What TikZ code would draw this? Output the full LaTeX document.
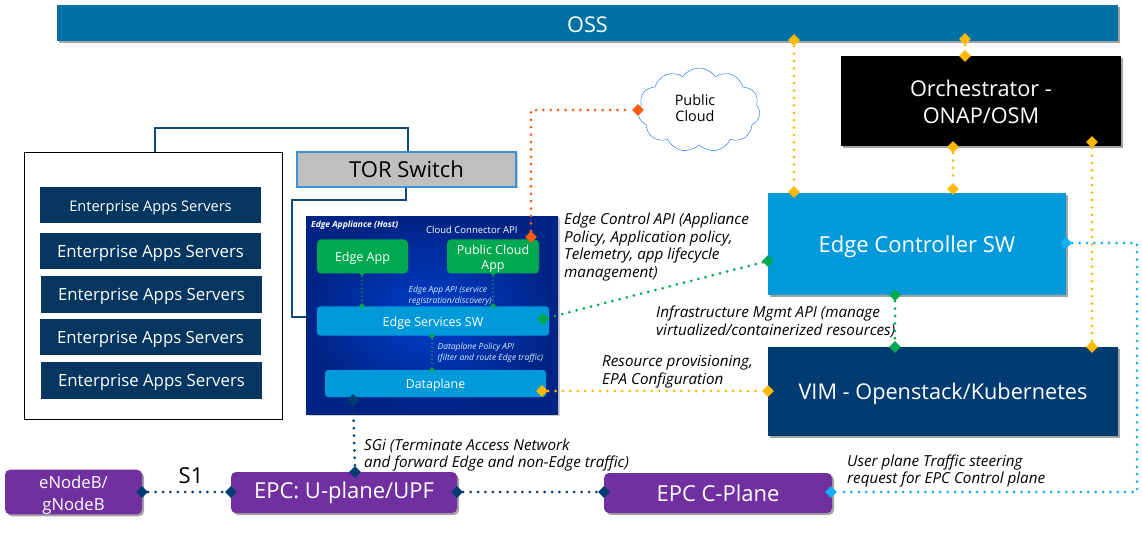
\documentclass[tikz,border=0pt]{standalone}
\usepackage{fontspec}
\setmainfont{Open Sans}
\usetikzlibrary{calc,shapes,shadows}

\definecolor{ossblue}{HTML}{0071A4}
\definecolor{skyblue}{HTML}{009ADA}
\definecolor{navyblue}{HTML}{003C71}
\definecolor{srvblue}{HTML}{04365F}
\definecolor{appgreen}{HTML}{00A94F}
\definecolor{epcpurple}{HTML}{7030A0}
\definecolor{gold}{HTML}{FFB900}
\definecolor{orangered}{HTML}{FF5A14}
\definecolor{lightblue}{HTML}{14AFF0}
\definecolor{wireblue}{HTML}{0A4A7D}
\definecolor{torblue}{HTML}{0A78C8}

\newcommand{\lowstrut}[1]{\rule{0pt}{#1}}

\tikzset{
  box/.style={draw=none,inner sep=0pt,text=white,align=center,
    drop shadow={shadow xshift=2pt,shadow yshift=-2pt,fill=black!60,opacity=0.6}},
  srv/.style={fill=srvblue,inner sep=0pt,text=white,align=center,minimum width=221pt,minimum height=36.5pt,font=\fontsize{16.8}{19}\selectfont},
  epc/.style={box,fill=epcpurple,rounded corners=5pt,font=\fontsize{22}{25}\selectfont},
  inbox/.style={inner sep=0pt,text=white,align=center},
  note/.style={anchor=west,inner sep=0pt,align=left,font=\fontsize{15.2}{17.6}\selectfont\itshape},
  tiny/.style={anchor=west,inner sep=0pt,align=left,text=white!85!skyblue,font=\fontsize{8.45}{11}\selectfont\itshape},
  port/.style={diamond,fill=#1,inner sep=0pt,minimum size=12pt},
  smallport/.style={diamond,fill=#1,inner sep=0pt,minimum size=6pt},
  link/.style={draw=#1,line width=3pt,line cap=round,dash pattern=on 0pt off 7.4pt},
  thinlink/.style={draw=#1,line width=1.8pt,line cap=round,dash pattern=on 0pt off 4pt},
  wire/.style={draw=wireblue,line width=2.2pt}
}

\begin{document}
\begin{tikzpicture}[x=1pt,y=-1pt]
  \useasboundingbox (0,0) rectangle (1142,534);

  %% Wires behind the boxes
  \coordinate (wireA) at (155,128);
  \coordinate (wireB) at (408,128);
  \coordinate (wireC) at (406,200);
  \coordinate (wireD) at (292,200);
  \coordinate (wireE) at (292,317);
  \coordinate (wireF) at (316,317);
  \coordinate (wireG) at (155,152);
  \coordinate (wireH) at (408,152);
  \coordinate (wireI) at (406,187);
  \draw[wire] (wireG) -- (wireA) -- (wireB) -- (wireH);
  \draw[wire] (wireI) -- (wireC) -- (wireD) -- (wireE) -- (wireF);

  %% Top row
  \node[box,fill=ossblue,minimum width=1061pt,minimum height=36pt,font=\fontsize{21.7}{25}\selectfont] (OSS) at (587.5,23) {\lowstrut{20pt}OSS};
  \node[box,fill=black,minimum width=280pt,minimum height=90pt,font=\fontsize{21.7}{27}\selectfont] (ORCH) at (981,101) {\lowstrut{18pt}Orchestrator -\\ONAP/OSM};
  \node[box,fill=skyblue,minimum width=298pt,minimum height=102pt,font=\fontsize{22}{25}\selectfont] (CTRL) at (917,244) {\lowstrut{22pt}Edge Controller SW};
  \node[box,fill=navyblue,minimum width=350pt,minimum height=89pt,font=\fontsize{21.7}{25}\selectfont] (VIM) at (943,391.5) {\lowstrut{22pt}VIM - Openstack/Kubernetes};
  \node[draw=lightblue!60!blue,cloud,cloud puffs=11,cloud puff arc=110,aspect=1.5,inner sep=0pt,minimum width=122pt,minimum height=84pt] (CLOUD) at (699,110) {};
  \node[inner sep=0pt,align=center,font=\fontsize{14.4}{16.5}\selectfont] (CLOUDTXT) at (695,108) {Public\\Cloud};

  %% Servers
  \node[draw=black,fill=white,minimum width=258pt,minimum height=267pt,inner sep=0pt] (RACK) at (153,285.5) {};
  \node[srv,font=\fontsize{14.6}{17}\selectfont] (SRV1) at (150.5,205) {\lowstrut{16pt}Enterprise Apps Servers};
  \foreach \n/\x/\y in {2/150.5/251,3/151.5/294.5,4/150.5/337,5/151.5/380.5}
  {
    \node[srv] (SRV\n) at (\x,\y) {\lowstrut{17pt}Enterprise Apps Servers};
  }
  \node[draw=torblue!80!white,line width=1.2pt,fill=black!25,inner sep=0pt,align=center,minimum width=219pt,minimum height=35pt,font=\fontsize{22}{25}\selectfont,drop shadow={shadow xshift=1.5pt,shadow yshift=-1.5pt,fill=black!40}] (TOR) at (406.5,169.5) {TOR Switch};

  %% Edge appliance
  \node[inner sep=0pt,minimum width=252pt,minimum height=197pt,inner color=blue!45!ossblue,outer color=navyblue!70!blue!85!black,drop shadow={shadow xshift=1.5pt,shadow yshift=-1.5pt,fill=black!40}] (HOST) at (432,315.5) {};
  \node[inner sep=0pt,anchor=west,text=white,font=\fontsize{8.5}{10}\selectfont\bfseries\itshape] (HOSTTXT) at (311,225) {Edge Appliance (Host)};
  \node[inner sep=0pt,anchor=west,text=white,font=\fontsize{9.5}{11}\selectfont] (CCAPI) at (426,229.5) {Cloud Connector API};
  \node[inbox,fill=appgreen,rounded corners=4pt,minimum width=91pt,minimum height=34pt,font=\fontsize{12.5}{15}\selectfont] (EAPP) at (362.5,256.5) {\lowstrut{13.5pt}Edge App};
  \node[inbox,fill=appgreen,rounded corners=4pt,minimum width=92pt,minimum height=34pt,font=\fontsize{12.5}{15}\selectfont] (PAPP) at (493,256.5) {\lowstrut{13.5pt}Public Cloud\\App};
  \node[inbox,fill=skyblue,rounded corners=3pt,minimum width=232pt,minimum height=29pt,font=\fontsize{12.5}{15}\selectfont] (ESW) at (433,321) {\lowstrut{13.5pt}Edge Services SW};
  \node[inbox,fill=skyblue,rounded corners=3pt,minimum width=221pt,minimum height=27pt,font=\fontsize{12.4}{15}\selectfont] (DPL) at (435.5,383.5) {\lowstrut{13.5pt}Dataplane};
  \node[tiny] (EAAPI) at (408.5,295.5) {Edge App API (service\\registration/discovery)};
  \node[tiny] (DPAPI) at (437.5,353) {Dataplane Policy API\\(filter and route Edge traffic)};

  %% Bottom row
  \node[epc,minimum width=137pt,minimum height=42pt,font=\fontsize{16.7}{22}\selectfont] (ENB) at (73.5,492) {\lowstrut{18.5pt}eNodeB/\\gNodeB};
  \node[epc,minimum width=226pt,minimum height=41pt] (EPCU) at (344,492.5) {\lowstrut{18pt}EPC: U-plane/UPF};
  \node[epc,minimum width=228pt,minimum height=40pt] (EPCC) at (718,493) {EPC C-Plane};
  \node[inner sep=0pt,font=\fontsize{22}{25}\selectfont] (SONE) at (191,476) {S1};

  %% Notes
  \node[note] (NCTRL) at (564,247) {Edge Control API (Appliance\\Policy, Application policy,\\Telemetry, app lifecycle\\management)};
  \node[note] (NINFRA) at (656,322) {Infrastructure Mgmt API (manage\\virtualized/containerized resources)};
  \node[note] (NRES) at (602,372) {Resource provisioning,\\EPA Configuration};
  \node[note] (NSGI) at (364,455) {SGi (Terminate Access Network\\and forward Edge and non-Edge traffic)};
  \node[note] (NUSER) at (847,471) {User plane Traffic steering\\request for EPC Control plane};

  %% Ports and dotted connectors
  \foreach \name/\x/\y in {goA/794/40,goB/794/192,gcA/965/39,gcB/965/56,gdA/953/147,gdB/953/189,
    geA/1092/142,geB/1092/347,gfA/542/391,gfB/768/391}
  {
    \node[port=gold] (\name) at (\x,\y) {};
  }
  \draw[link=gold] (goA) -- (goB);
  \draw[link=gold] (gcA) -- (gcB);
  \draw[link=gold] (gdA) -- (gdB);
  \draw[link=gold] (geA) -- (geB);
  \draw[link=gold] (gfA) -- (gfB);

  \foreach \name/\x/\y in {gaA/543/319,gaB/768/261,gbA/895/295,gbB/895/347}
  {
    \node[port=appgreen] (\name) at (\x,\y) {};
  }
  \draw[link=appgreen] (gaA) -- (gaB);
  \draw[link=appgreen] (gbA) -- (gbB);

  \foreach \name/\x/\y in {saA/362/273,saB/362/306,sbA/493/273,sbB/493/306,scA/432/336,scB/432/370}
  {
    \node[smallport=appgreen] (\name) at (\x,\y) {};
  }
  \draw[thinlink=appgreen] (saA) -- (saB);
  \draw[thinlink=appgreen] (sbA) -- (sbB);
  \draw[thinlink=appgreen] (scA) -- (scB);

  \node[port=orangered] (raA) at (531,237) {};
  \node[port=orangered] (raB) at (638,110) {};
  \draw[link=orangered] (raA) |- (raB);

  \node[port=lightblue] (baA) at (1066,243) {};
  \node[port=lightblue] (baB) at (831,492) {};
  \coordinate (baC) at (1137,243);
  \coordinate (baD) at (1137,492);
  \draw[link=lightblue] (baA) -- (baC) -- (baD) -- (baB);

  \foreach \name/\x/\y in {naA/353/400,naB/355/472,nbA/142/492,nbB/231/492,ncA/457/492,ncB/604/492}
  {
    \node[port=navyblue] (\name) at (\x,\y) {};
  }
  \draw[link=navyblue] (naA) -- (naB);
  \draw[link=navyblue] (nbA) -- (nbB);
  \draw[link=navyblue] (ncA) -- (ncB);
\end{tikzpicture}
\end{document}
